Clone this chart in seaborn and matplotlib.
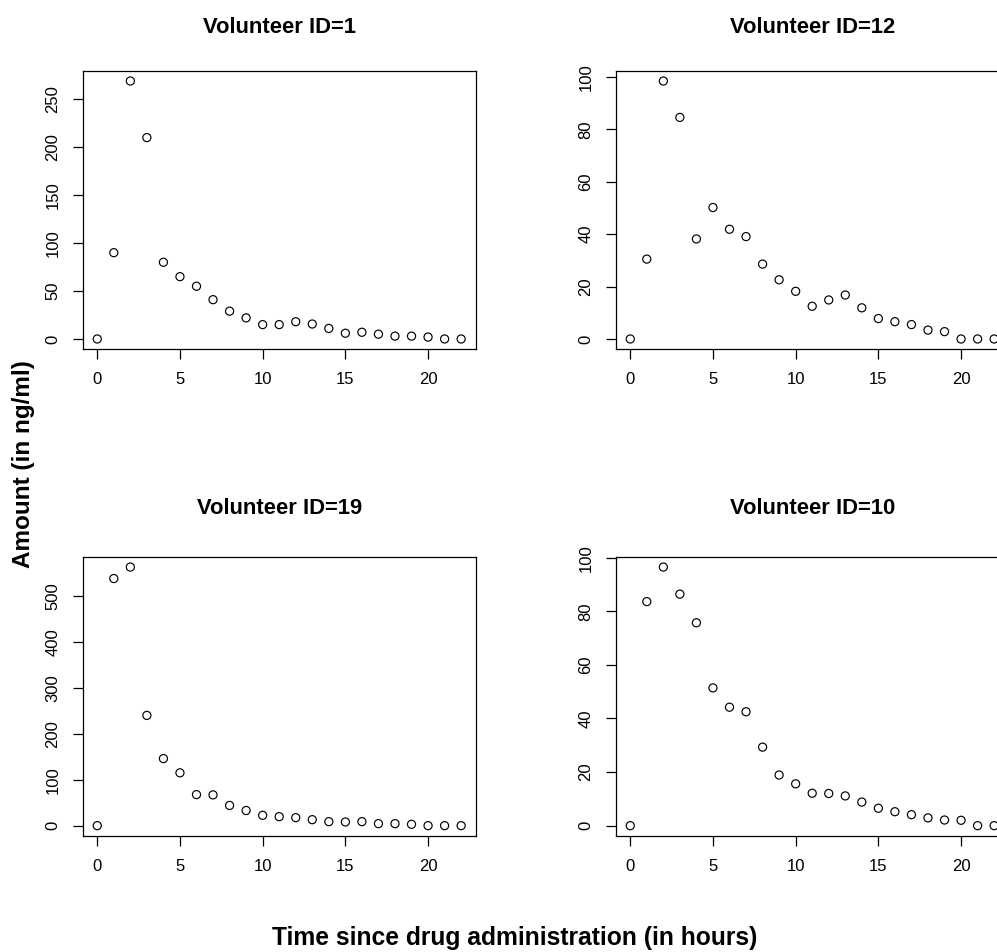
import numpy as np
import pandas as pd
import matplotlib
matplotlib.use("Agg")
import matplotlib.pyplot as plt
import seaborn as sns

# ---- data ----
hours = list(range(23))
volunteer_ids = [1, 12, 19, 10]
amount_id1 = [0, 90, 269, 210, 80, 65, 55, 41, 29, 22, 15, 15, 18, 15.6, 11, 6, 7, 5, 3, 3, 2, 0, 0]
amount_id12 = [0, 30.5, 98.5, 84.6, 38.2, 50.2, 41.9, 39.1, 28.6, 22.6, 18.2, 12.5, 14.9, 16.8, 11.9, 7.8, 6.6, 5.5, 3.4, 2.8, 0, 0, 0]
amount_id19 = [0, 538, 563, 240, 146, 115, 67.6, 67, 44, 33, 22.5, 19.6, 17.4, 13, 8.7, 8, 8.7, 4.4, 4.4, 3, 0, 0, 0]
amount_id10 = [0, 83.6, 96.5, 86.4, 75.7, 51.4, 44.2, 42.5, 29.3, 18.9, 15.6, 12.1, 12, 11.1, 8.8, 6.5, 5.2, 4.1, 2.9, 2.1, 2, 0, 0]
yticks_id1 = [0, 50, 100, 150, 200, 250]
yticks_id12 = [0, 20, 40, 60, 80, 100]
yticks_id19 = [0, 100, 200, 300, 400, 500]
yticks_id10 = [0, 20, 40, 60, 80, 100]
xticks = [0, 5, 10, 15, 20]

series = [amount_id1, amount_id12, amount_id19, amount_id10]
yticks_all = [yticks_id1, yticks_id12, yticks_id19, yticks_id10]

sns.set_style("ticks")
plt.rcParams['font.family'] = ['Liberation Sans', 'DejaVu Sans']
plt.rcParams['text.color'] = 'black'
plt.rcParams['axes.labelcolor'] = 'black'
plt.rcParams['xtick.color'] = 'black'
plt.rcParams['ytick.color'] = 'black'

W, H = 997, 952
fig = plt.figure(figsize=(W / 100, H / 100), dpi=100)
fig.patch.set_facecolor('white')

def rect(left, top, right, bottom):
    return [left / W, 1 - bottom / H, (right - left) / W, (bottom - top) / H]

rects = [rect(82.7, 70.7, 475.7, 349.3),
         rect(615.7, 70.7, 1008.7, 349.3),
         rect(82.7, 556.7, 475.7, 836.0),
         rect(615.7, 556.7, 1008.7, 836.0)]
title_pads = [27, 27, 31, 31]

for vid, vals, yt, r, tp in zip(volunteer_ids, series, yticks_all, rects, title_pads):
    ax = fig.add_axes(r)
    df = pd.DataFrame({"hour": hours, "amount": vals})
    sns.scatterplot(data=df, x="hour", y="amount", ax=ax, marker='o', s=34,
                    facecolor='none', edgecolor='black', linewidth=0.85, legend=False)
    ax.margins(x=0.04, y=0.04)
    ax.set_xticks(xticks)
    ax.set_yticks(yt)
    ax.set_xlabel("")
    ax.set_ylabel("")
    for sp in ax.spines.values():
        sp.set_visible(True)
        sp.set_color('black')
        sp.set_linewidth(0.9)
    ax.tick_params(axis='both', direction='out', length=7.5, width=0.9, color='black',
                   labelsize=12, labelcolor='black')
    ax.tick_params(axis='x', pad=9)
    ax.tick_params(axis='y', pad=8.5, labelrotation=90)
    for lab in ax.get_yticklabels():
        lab.set_va('center')
    ax.set_title(f"Volunteer ID={vid}", fontsize=15.8, fontweight='bold', pad=tp,
                 color='black')
    ax.set_facecolor('white')

fig.text(24 / W, 1 - 464.5 / H, "Amount (in ng/ml)", rotation=90, ha='center', va='center',
         fontsize=17.5, fontweight='bold', color='black')
fig.text(515 / W, 1 - 938 / H, "Time since drug administration (in hours)", ha='center',
         va='center', fontsize=17.7, fontweight='bold', color='black')

fig.savefig("out.png", dpi=100, facecolor='white')
